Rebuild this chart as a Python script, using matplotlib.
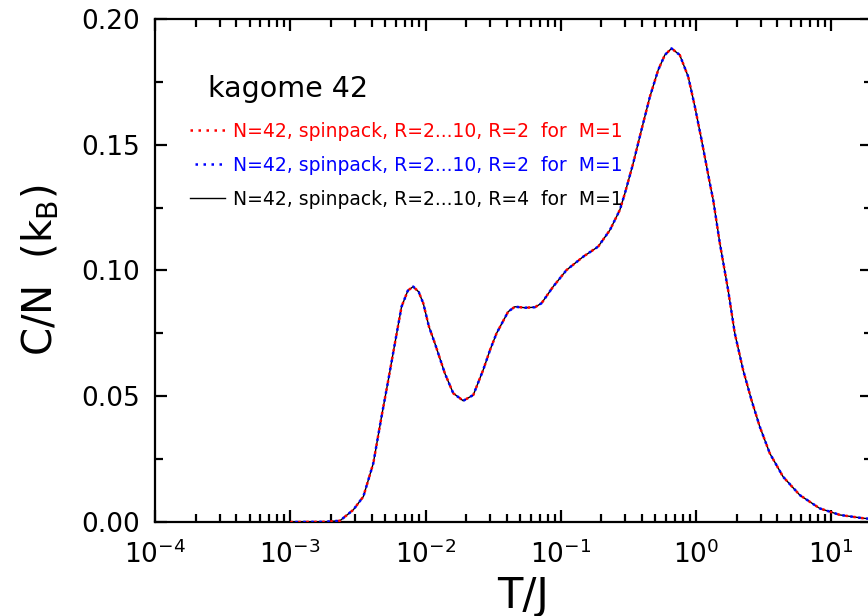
import matplotlib
matplotlib.use("Agg")
import matplotlib.pyplot as plt
from matplotlib.lines import Line2D
from matplotlib.ticker import LogLocator, MultipleLocator, FormatStrFormatter

plt.rcParams['font.family'] = ['DejaVu Sans']
plt.rcParams['mathtext.fontset'] = 'dejavusans'

# specific heat per site, kagome N=42
T = [0.001, 0.0018, 0.00233, 0.00292, 0.00347, 0.00411, 0.00473, 0.00531,
     0.00594, 0.00665, 0.0074, 0.00811, 0.0089, 0.00962, 0.0106, 0.01172,
     0.0139, 0.01603, 0.019, 0.02255, 0.02667, 0.030, 0.0335, 0.0408,
     0.0458, 0.0543, 0.0645, 0.0721, 0.0879, 0.1104, 0.1466, 0.189, 0.231,
     0.2735, 0.298, 0.343, 0.395, 0.456, 0.525, 0.588, 0.659, 0.758, 0.875,
     0.98, 1.099, 1.265, 1.34, 1.50, 1.727, 1.935, 2.23, 2.57, 2.96, 3.51,
     4.40, 5.85, 8.22, 11.6, 17.2, 20.0]
C = [0.0, 0.0001, 0.0005, 0.0048, 0.0101, 0.0233, 0.0419, 0.0565,
     0.0711, 0.0856, 0.0920, 0.0936, 0.0915, 0.0870, 0.0777, 0.0711,
     0.0591, 0.0512, 0.0482, 0.0505, 0.0604, 0.0684, 0.0750, 0.0836,
     0.0856, 0.0852, 0.0854, 0.0870, 0.0936, 0.1002, 0.1055, 0.1095, 0.1161,
     0.1241, 0.1307, 0.1426, 0.1559, 0.1691, 0.1797, 0.1857, 0.1883, 0.1857, 0.1771,
     0.1652, 0.1519, 0.1347, 0.1280, 0.1108, 0.0922, 0.0750, 0.0604, 0.0485, 0.0379, 0.0273,
     0.0180, 0.0107, 0.0054, 0.0028, 0.0015, 0.0012]

labels = ['N=42, spinpack, R=2...10, R=2  for  M=1',
          'N=42, spinpack, R=2...10, R=2  for  M=1',
          'N=42, spinpack, R=2...10, R=4  for  M=1']

fig = plt.figure(figsize=(8.68, 6.16), dpi=100)
# right spine sits just past the figure edge
ax = fig.add_axes([155/868, 94/616, 717/868, 503/616])

ax.plot(T, C, color='black', lw=1.0, zorder=2)
l1, = ax.plot(T, C, color='red', lw=1.8, ls=(0, (1, 2.2)), zorder=3)
l2, = ax.plot(T, C, color='blue', lw=1.8, ls=(1.2, (1, 2.2)), zorder=4)
l3 = Line2D([], [], color='black', lw=1.0)

ax.set_xscale('log')
ax.set_xlim(1e-4, 20)
ax.set_ylim(0, 0.20)
ax.yaxis.set_major_locator(MultipleLocator(0.05))
ax.yaxis.set_minor_locator(MultipleLocator(0.025))
ax.yaxis.set_major_formatter(FormatStrFormatter('%.2f'))
ax.xaxis.set_major_locator(LogLocator(base=10, numticks=20))
ax.xaxis.set_minor_locator(LogLocator(base=10, subs=range(2, 10), numticks=20))

for s in ax.spines.values():
    s.set_linewidth(1.6)
ax.tick_params(which='both', direction='in', top=True, right=True, width=1.6)
ax.tick_params(which='major', length=8.5, labelsize=19)
ax.tick_params(axis='x', which='major', pad=13)
ax.tick_params(axis='y', which='major', pad=11)
ax.tick_params(which='minor', length=5.5)

ax.set_xlabel('T/J', fontsize=30, labelpad=0)
ax.xaxis.set_label_coords(0.513, -0.105)
ax.set_ylabel('C/N  (k$_\\mathrm{B}$)', fontsize=29, labelpad=14)

ax.text(0.074, 0.845, 'kagome 42', transform=ax.transAxes, fontsize=20.5,
        va='baseline')

leg = ax.legend([l1, l2, l3], labels, loc='upper left',
                bbox_to_anchor=(0.049, 0.796), frameon=False, fontsize=13.5,
                borderpad=0, borderaxespad=0,
                handlelength=1.87, handletextpad=0.43, labelspacing=0.81,
                labelcolor='linecolor')

fig.savefig('out.png', dpi=100)
